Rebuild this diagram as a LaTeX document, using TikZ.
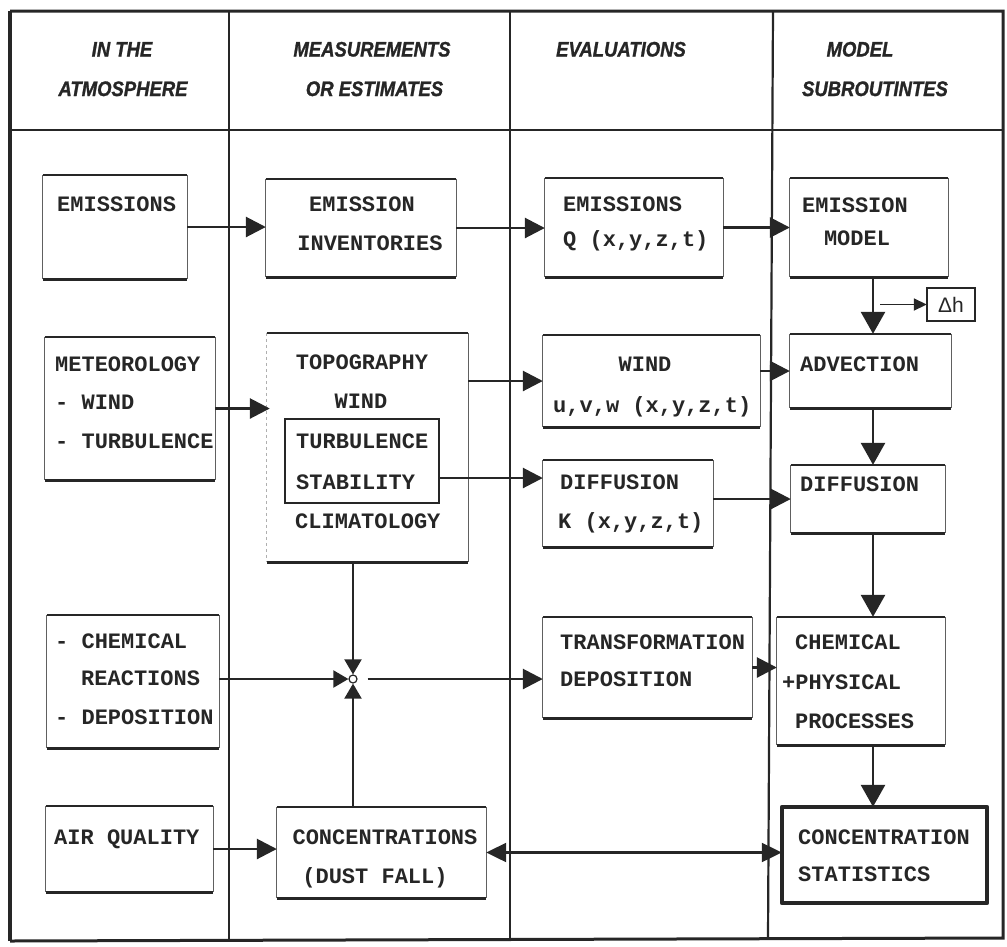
\documentclass[tikz,border=0pt]{standalone}
\usepackage{fontspec}
\usetikzlibrary{arrows.meta}
\newfontfamily\typefont{Liberation Mono}
\newfontfamily\headfont[FakeStretch=0.88, BoldItalicFeatures={FakeBold=1.2}]{Liberation Sans}
\definecolor{ink}{HTML}{262626}
\definecolor{side}{HTML}{606060}

% top and bottom edges heavy, side edges light
\newcommand\edges[1]{%
  \draw[hedge] (#1.north west) -- (#1.north east) (#1.south west) -- (#1.south east);
  \draw[vedge] (#1.north west) -- (#1.south west) (#1.north east) -- (#1.south east);}

\begin{document}
\begin{tikzpicture}[x=1pt,y=-1pt,
  box/.style={rectangle, inner sep=0pt, draw=none},
  hedge/.style={ink, line width=2.6pt},
  vedge/.style={side, line width=1.2pt},
  frameline/.style={ink, line width=3pt},
  colline/.style={ink, line width=2.2pt},
  lbl/.style={font=\typefont\bfseries\fontsize{22}{22}\selectfont, text=ink, inner sep=0pt},
  hdr/.style={font=\headfont\bfseries\itshape\fontsize{21}{21}\selectfont, text=ink, inner sep=0pt, anchor=base},
  link/.style={ink, line width=2.8pt, -{Triangle[length=20pt,width=20pt]}},
  twoway/.style={ink, line width=2.2pt, {Triangle[length=20pt,width=19pt]}-{Triangle[length=20pt,width=19pt]}},
  down/.style={ink, line width=2.8pt, -{Triangle[length=22pt,width=24pt]}},
  jlink/.style={ink, line width=2pt, -{Triangle[length=15pt,width=17pt]}},
  small/.style={ink, line width=1.8pt, -{Triangle[length=13pt,width=12pt]}}]
\useasboundingbox (0,0) rectangle (1007,946);

% ---- outer frame and column grid
\coordinate (tl) at (10,11);  \coordinate (tr) at (1003,11);
\coordinate (bl) at (10,941); \coordinate (br) at (1003,938);
\draw[frameline] (tl) -- (tr) -- (br) -- (bl);
\draw[ink, line width=4.5pt] (bl) -- (tl);
\draw[colline] (229,11) -- (229,941);
\draw[colline] (510,11) -- (510,940);
\draw[colline] (773,11) -- (768,939);
\draw[ink, line width=2.6pt] (10,130) -- (1003,130);

% ---- column headings
\node[hdr] (h1a) at (122,56.5) {IN THE};
\node[hdr] (h1b) at (123,96) {ATMOSPHERE};
\node[hdr] (h2a) at (372,56.5) {MEASUREMENTS};
\node[hdr] (h2b) at (374.5,96) {OR ESTIMATES};
\node[hdr] (h3a) at (621,56.5) {EVALUATIONS};
\node[hdr] (h4a) at (860,56.5) {MODEL};
\node[hdr] (h4b) at (875,96) {SUBROUTINTES};

% ---- boxes
\node[box, minimum width=144pt, minimum height=104pt] (emis) at (115,227) {};
\node[box, minimum width=190pt, minimum height=98pt]  (inv)  at (361,228) {};
\node[box, minimum width=178pt, minimum height=99pt]  (evq)  at (634,227.5) {};
\node[box, minimum width=158pt, minimum height=99pt]  (emod) at (869,227.5) {};
\node[box, minimum width=48pt,  minimum height=33pt]  (dh)   at (951,304.5) {};
\node[box, minimum width=170pt, minimum height=143pt] (met)  at (130,408.5) {};
\node[box, minimum width=201pt, minimum height=229pt] (topo) at (367.5,447.5) {};
\node[box, minimum width=154pt, minimum height=84pt]  (turb) at (362,461) {};
\node[box, minimum width=217pt, minimum height=92pt]  (wind) at (651.5,381) {};
\node[box, minimum width=161pt, minimum height=74pt]  (adv)  at (870.5,371) {};
\node[box, minimum width=170pt, minimum height=87pt]  (dif)  at (628,503.5) {};
\node[box, minimum width=154pt, minimum height=68pt]  (difm) at (868,499) {};
\node[box, minimum width=172pt, minimum height=133pt] (chem) at (133,681.5) {};
\node[box, minimum width=209pt, minimum height=101pt] (trans) at (647.5,667.5) {};
\node[box, minimum width=168pt, minimum height=128pt] (chm)  at (861,681) {};
\node[box, minimum width=167pt, minimum height=86pt]  (air)  at (129.5,849) {};
\node[box, minimum width=209pt, minimum height=91pt]  (conc) at (381.5,852.5) {};
\node[box, minimum width=205pt, minimum height=96pt]  (stat) at (884.5,855) {};

\edges{emis}\edges{inv}\edges{evq}\edges{emod}
\edges{met}\edges{wind}\edges{adv}\edges{dif}\edges{difm}
\edges{chem}\edges{trans}\edges{chm}\edges{air}\edges{conc}
% measurement box: faint left side
\draw[hedge] (topo.north west) -- (topo.north east) (topo.south west) -- (topo.south east);
\draw[vedge] (topo.north east) -- (topo.south east);
\draw[side!50, line width=1pt, dashed] (topo.north west) -- (topo.south west);
\draw[ink, line width=1.6pt, fill=white] (turb.north west) rectangle (turb.south east);
\draw[ink, line width=1.5pt] (dh.north west) rectangle (dh.south east);
\draw[ink, line width=3.6pt, line join=round] (stat.north west) rectangle (stat.south east);

% ---- box texts
\node[lbl, anchor=base west] (t-emis) at (57,211.5) {EMISSIONS};
\node[lbl, anchor=base] (t-inv1) at (362,211.5) {EMISSION};
\node[lbl, anchor=base] (t-inv2) at (370,250.5) {INVENTORIES};
\node[lbl, anchor=base west] (t-evq1) at (563,211.5) {EMISSIONS};
\node[lbl, anchor=base west] (t-evq2) at (563,246.5) {Q (x,y,z,t)};
\node[lbl, anchor=base west] (t-emod1) at (802,212) {EMISSION};
\node[lbl, anchor=base] (t-emod2) at (857,245.5) {MODEL};
\node[font=\fontspec{Liberation Sans}\fontsize{21}{21}\selectfont, text=ink, inner sep=0pt] (t-dh) at (dh) {Δh};

\node[lbl, anchor=base west] (t-met1) at (55,371.5) {METEOROLOGY};
\node[lbl, anchor=base west] (t-met2) at (55,409.5) {- WIND};
\node[lbl, anchor=base west] (t-met3) at (55,448.5) {- TURBULENCE};
\node[lbl, anchor=base] (t-topo1) at (362,369.5) {TOPOGRAPHY};
\node[lbl, anchor=base] (t-topo2) at (361,408.5) {WIND};
\node[lbl, anchor=base west] (t-topo3) at (296,448.5) {TURBULENCE};
\node[lbl, anchor=base west] (t-topo4) at (296,489.5) {STABILITY};
\node[lbl, anchor=base west] (t-topo5) at (295,528.5) {CLIMATOLOGY};
\node[lbl, anchor=base] (t-wind1) at (645,371.5) {WIND};
\node[lbl, anchor=base west] (t-wind2) at (553,412) {u,v,w (x,y,z,t)};
\node[lbl, anchor=base west] (t-adv) at (800,371.5) {ADVECTION};
\node[lbl, anchor=base west] (t-dif1) at (560,489.5) {DIFFUSION};
\node[lbl, anchor=base west] (t-dif2) at (558,528.5) {K (x,y,z,t)};
\node[lbl, anchor=base west] (t-difm) at (800,491.5) {DIFFUSION};

\node[lbl, anchor=base west] (t-chem1) at (55,648.5) {- CHEMICAL};
\node[lbl, anchor=base west] (t-chem2) at (81,685.5) {REACTIONS};
\node[lbl, anchor=base west] (t-chem3) at (55,724.5) {- DEPOSITION};
\node[lbl, anchor=base west] (t-trans1) at (560,649.5) {TRANSFORMATION};
\node[lbl, anchor=base west] (t-trans2) at (560,686.5) {DEPOSITION};
\node[lbl, anchor=base west] (t-chm1) at (795,649.5) {CHEMICAL};
\node[lbl, anchor=base west] (t-chm2) at (782,689.5) {+PHYSICAL};
\node[lbl, anchor=base west] (t-chm3) at (795,728.5) {PROCESSES};

\node[lbl, anchor=base west] (t-air) at (54,844.5) {AIR QUALITY};
\node[lbl, anchor=base] (t-conc1) at (385,844.5) {CONCENTRATIONS};
\node[lbl, anchor=base] (t-conc2) at (375,883.5) {(DUST FALL)};
\node[lbl, anchor=base west] (t-stat1) at (798,844.5) {CONCENTRATION};
\node[lbl, anchor=base west] (t-stat2) at (798,881.5) {STATISTICS};

% ---- junction of the measurement streams
\node[circle, draw=ink, fill=white, line width=1.2pt, minimum size=8pt, inner sep=0pt] (junc) at (353,679) {};

% ---- horizontal connectors
\coordinate (turbout) at ([yshift=-17pt]turb.east);
\draw[link] (emis.east) -- (inv.west |- emis.east);
\draw[link] (inv.east) -- (evq.west |- inv.east);
\draw[link] (evq.east) -- (emod.west |- evq.east);
\draw[link] (met.east) -- ([xshift=3pt]topo.west |- met.east);
\draw[link] (topo.east |- wind.west) -- (wind.west);
\draw[link] (turbout) -- (dif.west |- turbout);
\draw[link] (wind.east |- adv.west) -- (adv.west);
\draw[link] (dif.east |- difm.west) -- (difm.west);
\draw[jlink] (chem.east |- junc) -- (junc.west);
\draw[link, shorten <=10pt] (junc.east) -- (trans.west |- junc.east);
\draw[link] (trans.east) -- (chm.west |- trans.east);
\draw[link] (air.east) -- (conc.west |- air.east);
\draw[twoway] (conc.east) -- (stat.west |- conc.east);

% ---- vertical connectors into the junction
\draw[jlink] (topo.south -| junc) -- (junc.north);
\draw[jlink] (conc.north -| junc) -- (junc.south);

% ---- model subroutine chain
\coordinate (mx) at (873,0);
\draw[down] (emod.south -| mx) -- (adv.north -| mx);
\draw[down] (adv.south -| mx) -- (difm.north -| mx);
\draw[down] (difm.south -| mx) -- (chm.north -| mx);
\draw[down] (chm.south -| mx) -- (stat.north -| mx);
\draw[small, shorten <=7pt] (dh.west -| mx) -- (dh.west);
\end{tikzpicture}
\end{document}
